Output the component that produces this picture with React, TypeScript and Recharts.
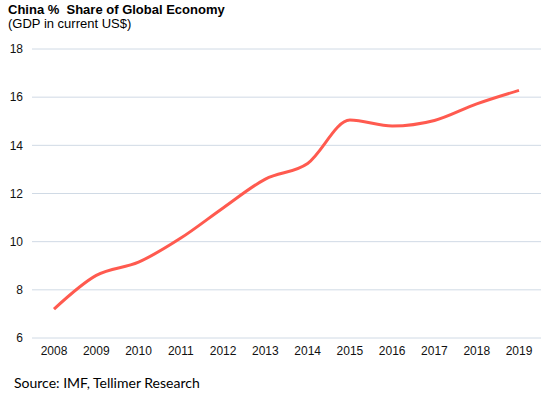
import { LineChart, Line, XAxis, YAxis, CartesianGrid } from 'recharts';

const years = ['2008', '2009', '2010', '2011', '2012', '2013', '2014', '2015', '2016', '2017', '2018', '2019'];
const shareValues = [7.2, 8.6, 9.15, 10.15, 11.4, 12.6, 13.25, 15.05, 14.8, 15.03, 15.72, 16.28];
const yTicks = [6, 8, 10, 12, 14, 16, 18];

const data = years.map((year, i) => ({ year, share: shareValues[i] }));

const tickStyle = { fontSize: 12, fill: '#111', fontFamily: 'Liberation Sans, Arial, sans-serif' };

export default function App() {
  return (
    <div style={{ position: 'absolute', left: 0, top: 0, width: 555, height: 397, background: '#fff' }}>
      <div
        style={{
          position: 'absolute', left: 8, top: 3,
          fontFamily: 'Liberation Sans, Arial, sans-serif', fontSize: 13, lineHeight: '14px', color: '#000',
        }}
      >
        <div style={{ fontWeight: 'bold' }}>China %&nbsp; Share of Global Economy</div>
        <div>(GDP in current US$)</div>
      </div>
      <LineChart width={555} height={397} data={data} margin={{ top: 49, right: 14, left: 0, bottom: 29 }}>
        <CartesianGrid vertical={false} stroke="#d0dae5" />
        <XAxis
          dataKey="year"
          axisLine={false}
          tickLine={false}
          tick={tickStyle}
          padding={{ left: 22, right: 22 }}
          height={30}
          interval={0}
        />
        <YAxis
          domain={[6, 18]}
          ticks={yTicks}
          axisLine={false}
          tickLine={false}
          tick={tickStyle}
          width={32}
          tickMargin={3}
        />
        <Line
          type="monotone"
          dataKey="share"
          stroke="#ff5a4f"
          strokeWidth={3}
          dot={false}
          isAnimationActive={false}
        />
      </LineChart>
      <div
        style={{
          position: 'absolute', left: 14, top: 374,
          fontFamily: 'Lato, Carlito, sans-serif', fontSize: 14, color: '#000',
        }}
      >
        Source: IMF, Tellimer Research
      </div>
    </div>
  );
}
